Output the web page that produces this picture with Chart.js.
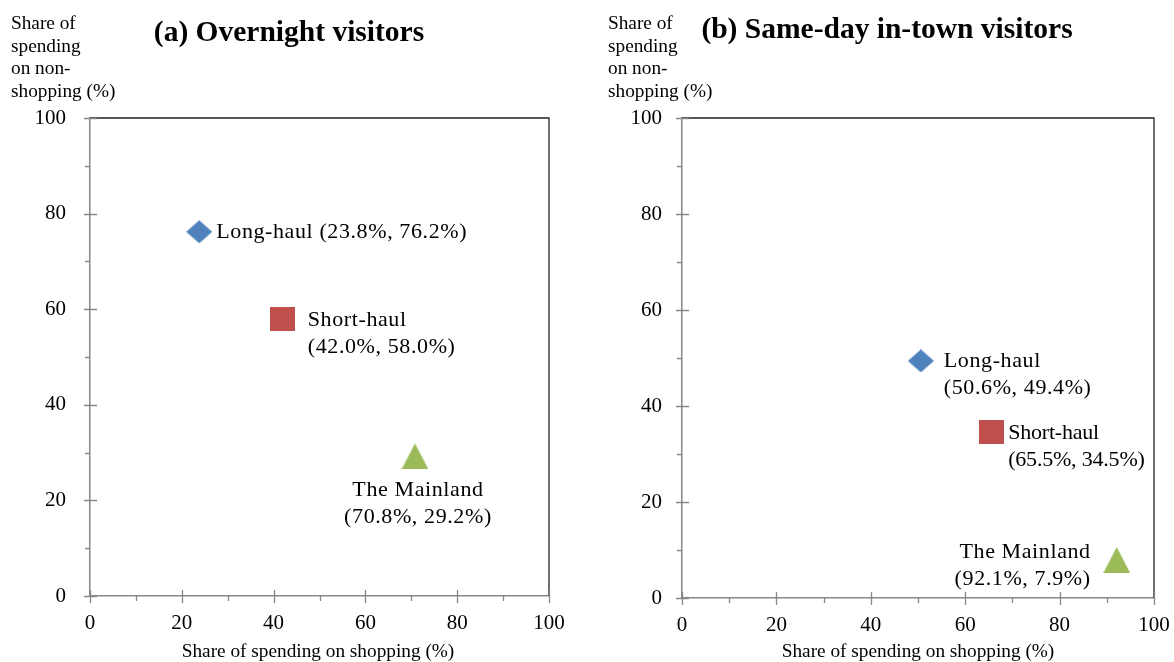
<!DOCTYPE html>
<html>
<head>
<meta charset="utf-8">
<script src="https://cdn.jsdelivr.net/npm/chart.js@4.4.1/dist/chart.umd.min.js"></script>
<style>
  body { margin: 0; background: #fff; }
  #wrap { position: relative; width: 1174px; height: 662px; overflow: hidden; }
  canvas { position: absolute; top: 0; }
</style>
</head>
<body>
<div id="wrap">
  <canvas id="overnight" width="587" height="662" style="left:0"></canvas>
  <canvas id="sameday" width="587" height="662" style="left:587px"></canvas>
</div>
<script>
// data
const groups = ['Long-haul', 'Short-haul', 'The Mainland'];
const overnightShopping = [23.8, 42.0, 70.8];
const overnightNonShopping = [76.2, 58.0, 29.2];
const sameDayShopping = [50.6, 65.5, 92.1];
const sameDayNonShopping = [49.4, 34.5, 7.9];
const tickValues = [0, 20, 40, 60, 80, 100];

const markerColors = ['#4F81BD', '#C0504D', '#9BBB59'];
const markerShapes = ['diamond', 'square', 'triangle'];
const SERIF = "'Liberation Serif', 'Times New Roman', serif";

// where each point label sits, relative to its marker
const overnightLabels = [
  { oneLine: true, dx: 17, dy: 0, align: 'left' },
  { dx: 25, dy: 1, align: 'left' },
  { dx: 3, dy: 34, align: 'center' }
];
const sameDayLabels = [
  { dx: 23, dy: 0, align: 'left' },
  { dx: 17, dy: 1, align: 'left', spacing: '-0.2px' },
  { dx: -26, dy: -8, align: 'right' }
];

function makeMarker(shape, color) {
  const sizes = { diamond: [26, 23], square: [25, 24], triangle: [27, 26] };
  const [w, h] = sizes[shape];
  const c = document.createElement('canvas');
  c.width = w; c.height = h;
  const ctx = c.getContext('2d');
  ctx.fillStyle = color;
  ctx.beginPath();
  if (shape === 'diamond') {
    ctx.moveTo(w / 2, 0); ctx.lineTo(w, h / 2); ctx.lineTo(w / 2, h); ctx.lineTo(0, h / 2);
  } else if (shape === 'triangle') {
    ctx.moveTo(w / 2, 0); ctx.lineTo(w, h); ctx.lineTo(0, h);
  } else {
    ctx.rect(0, 0, w, h);
  }
  ctx.closePath();
  ctx.fill();
  return c;
}

const decorPlugin = {
  id: 'decor',
  afterDraw(chart, args, opts) {
    const ctx = chart.ctx;
    const a = chart.chartArea;
    const xs = chart.scales.x, ys = chart.scales.y;
    ctx.save();

    // frame on top and right
    ctx.strokeStyle = '#222';
    ctx.lineWidth = 1.3;
    ctx.beginPath();
    ctx.moveTo(a.left, a.top); ctx.lineTo(a.right, a.top); ctx.lineTo(a.right, a.bottom);
    ctx.stroke();

    // tick marks, major crossing the axis, minor outside only
    ctx.strokeStyle = '#888';
    ctx.lineWidth = 1.3;
    for (let i = 0; i < tickValues.length; i++) {
      const v = tickValues[i];
      const px = Math.round(xs.getPixelForValue(v)) + 0.5;
      const py = Math.round(ys.getPixelForValue(v)) + 0.5;
      ctx.beginPath();
      ctx.moveTo(px, a.bottom - 6); ctx.lineTo(px, a.bottom + 7);
      ctx.moveTo(a.left - 6, py); ctx.lineTo(a.left + 7, py);
      ctx.stroke();
      if (i < tickValues.length - 1) {
        const m = (v + tickValues[i + 1]) / 2;
        const mx = Math.round(xs.getPixelForValue(m)) + 0.5;
        const my = Math.round(ys.getPixelForValue(m)) + 0.5;
        ctx.beginPath();
        ctx.moveTo(mx, a.bottom); ctx.lineTo(mx, a.bottom + 5);
        ctx.moveTo(a.left - 5, my); ctx.lineTo(a.left, my);
        ctx.stroke();
      }
    }

    ctx.fillStyle = '#000';
    // chart title
    ctx.font = 'bold 29.5px ' + SERIF;
    ctx.textAlign = 'center';
    ctx.textBaseline = 'middle';
    ctx.fillText(opts.title, opts.titleX, opts.titleY);

    // x axis title
    ctx.font = '19.3px ' + SERIF;
    ctx.fillText('Share of spending on shopping (%)', opts.xTitleX, 652);

    // y axis title, stacked
    ctx.textAlign = 'left';
    ctx.textBaseline = 'alphabetic';
    ['Share of', 'spending', 'on non-', 'shopping (%)'].forEach((t, i) => {
      ctx.fillText(t, opts.yTitleX, 29 + i * 22.7);
    });

    // point labels
    ctx.font = '22px ' + SERIF;
    ctx.textBaseline = 'middle';
    opts.labels.forEach((lab, i) => {
      const el = chart.getDatasetMeta(i).data[0];
      const d = chart.data.datasets[i].data[0];
      const coords = '(' + d.x.toFixed(1) + '%, ' + d.y.toFixed(1) + '%)';
      const lines = lab.oneLine ? [groups[i] + ' ' + coords] : [groups[i], coords];
      ctx.textAlign = lab.align;
      ctx.letterSpacing = lab.spacing || '0.6px';
      lines.forEach((t, j) => ctx.fillText(t, el.x + lab.dx, el.y + lab.dy + j * 27));
    });
    ctx.restore();
  }
};

function buildChart(id, shopping, nonShopping, cfg) {
  const datasets = groups.map((g, i) => ({
    label: g,
    data: [{ x: shopping[i], y: nonShopping[i] }],
    pointStyle: makeMarker(markerShapes[i], markerColors[i]),
    backgroundColor: markerColors[i],
    borderColor: markerColors[i]
  }));
  const tickFont = { family: SERIF, size: 21 };
  return new Chart(document.getElementById(id), {
    type: 'scatter',
    data: { datasets },
    plugins: [decorPlugin],
    options: {
      responsive: false,
      animation: false,
      layout: { padding: { left: 0, right: cfg.padRight, top: 118, bottom: 0 } },
      plugins: {
        legend: { display: false },
        tooltip: { enabled: false },
        decor: cfg
      },
      scales: {
        x: {
          type: 'linear', min: 0, max: 100,
          afterBuildTicks: s => { s.ticks = tickValues.map(v => ({ value: v })); },
          afterFit: s => { s.height = cfg.xHeight; s.paddingLeft = 0; s.paddingRight = 0; },
          grid: { display: true, drawOnChartArea: false, drawTicks: false },
          border: { display: true, color: '#888', width: 1.5 },
          ticks: { font: tickFont, color: '#000', padding: 15, maxRotation: 0 }
        },
        y: {
          type: 'linear', min: 0, max: 100,
          afterBuildTicks: s => { s.ticks = tickValues.map(v => ({ value: v })); },
          afterFit: s => { s.width = cfg.yWidth; s.paddingTop = 0; s.paddingBottom = 0; },
          grid: { display: true, drawOnChartArea: false, drawTicks: false },
          border: { display: true, color: '#888', width: 1.5 },
          ticks: { font: tickFont, color: '#000', padding: cfg.yPad }
        }
      }
    }
  });
}

buildChart('overnight', overnightShopping, overnightNonShopping, {
  title: '(a) Overnight visitors', titleX: 289, titleY: 33,
  xTitleX: 318, yTitleX: 11,
  padRight: 38, xHeight: 66, yWidth: 90, yPad: 24,
  labels: overnightLabels
});

buildChart('sameday', sameDayShopping, sameDayNonShopping, {
  title: '(b) Same-day in-town visitors', titleX: 300, titleY: 30,
  xTitleX: 331, yTitleX: 21,
  padRight: 20, xHeight: 64, yWidth: 95, yPad: 20,
  labels: sameDayLabels
});
</script>
</body>
</html>
